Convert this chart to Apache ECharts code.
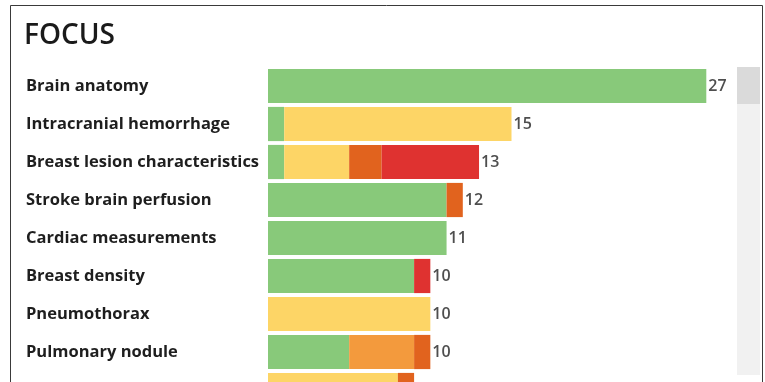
<!DOCTYPE html>
<html>
<head>
<meta charset="utf-8">
<script src="https://cdn.jsdelivr.net/npm/echarts@6/dist/echarts.min.js"></script>
<style>
html,body{margin:0;padding:0;background:#fff;}
#chart{width:765px;height:382px;}
</style>
</head>
<body>
<div id="chart"></div>
<script>
const title = "FOCUS";
const categories = ["Brain anatomy","Intracranial hemorrhage","Breast lesion characteristics","Stroke brain perfusion","Cardiac measurements","Breast density","Pneumothorax","Pulmonary nodule",""];
const greenVals      = [27, 1, 1, 11, 11, 9, 0, 5, 0];
const yellowVals     = [0, 14, 4, 0, 0, 0, 10, 0, 8];
const orangeVals     = [0, 0, 0, 0, 0, 0, 0, 4, 0];
const darkOrangeVals = [0, 0, 2, 1, 0, 0, 0, 1, 1];
const redVals        = [0, 0, 6, 0, 0, 1, 0, 0, 0];

const totals = categories.map((c, i) => greenVals[i] + yellowVals[i] + orangeVals[i] + darkOrangeVals[i] + redVals[i]);

const chart = echarts.init(document.getElementById('chart'), null, {renderer: 'canvas'});
const FONT = '"Open Sans", sans-serif';

function barSeries(name, data, color) {
  return {
    name: name, type: 'bar', stack: 'total', data: data,
    barCategoryGap: '10%',
    itemStyle: {color: color},
    emphasis: {disabled: true},
    silent: true
  };
}

const option = {
  animation: false,
  backgroundColor: '#ffffff',
  title: {
    text: title, left: 19, top: 17,
    textStyle: {fontFamily: FONT, fontSize: 28, fontWeight: 600, color: '#1a1a1a'}
  },
  grid: {left: 268, top: 67, width: 487, height: 342, containLabel: false, outerBoundsMode: 'none'},
  xAxis: {
    type: 'value', min: 0, max: 30, show: false
  },
  yAxis: {
    type: 'category', data: categories, inverse: true,
    axisLine: {show: false}, axisTick: {show: false}, splitLine: {show: false},
    axisLabel: {
      align: 'left', margin: 242,
      fontFamily: FONT, fontSize: 16.5, fontWeight: 'bold', color: '#1e1e1e'
    }
  },
  series: [
    barSeries('green', greenVals, '#88c97a'),
    barSeries('yellow', yellowVals, '#fdd566'),
    barSeries('orange', orangeVals, '#f39a3d'),
    barSeries('darkorange', darkOrangeVals, '#e1631e'),
    barSeries('red', redVals, '#df3230'),
    {
      type: 'scatter', symbolSize: 0, silent: true,
      data: totals.map((t, i) => [t, i]),
      label: {
        show: true, position: 'right', distance: 2,
        formatter: p => p.value[0],
        fontFamily: FONT, fontSize: 16, fontWeight: 600, color: '#222'
      }
    }
  ],
  graphic: [
    {type: 'rect', shape: {x: 10.5, y: 5.5, width: 752, height: 400}, style: {fill: 'none', stroke: '#3a3a3a', lineWidth: 1}, silent: true},
    {type: 'rect', shape: {x: 737, y: 67, width: 23, height: 308}, style: {fill: '#f1f1f1'}, silent: true},
    {type: 'rect', shape: {x: 737, y: 67, width: 23, height: 37}, style: {fill: '#dadada'}, silent: true}
  ]
};
chart.setOption(option);
</script>
</body>
</html>
